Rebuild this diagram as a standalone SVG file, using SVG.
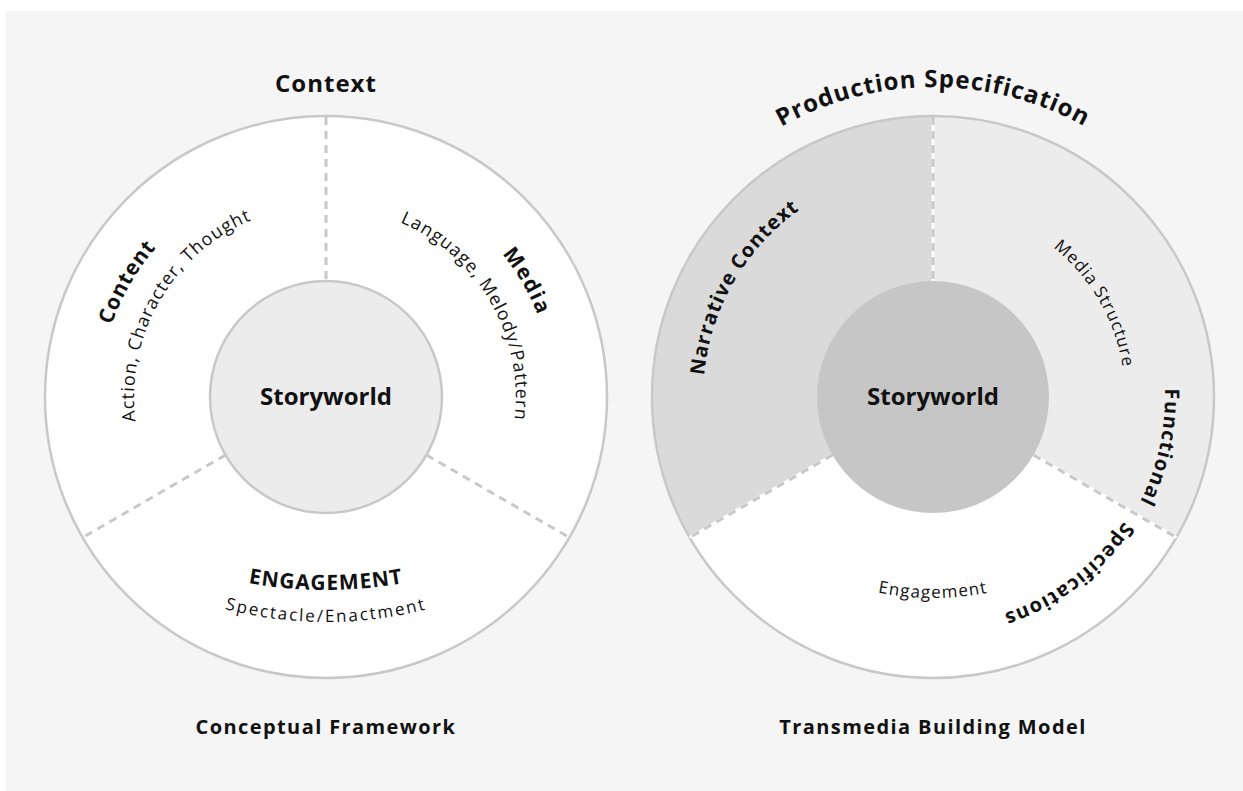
<svg xmlns="http://www.w3.org/2000/svg" width="1243" height="791" viewBox="0 0 1243 791">
<style>
.t{font-family:"Open Sans","Liberation Sans",sans-serif;fill:#111;}
.b{font-weight:700;}
.n{font-weight:400;}
.ring{fill:#fff;stroke:#c8c8c8;stroke-width:2.5;}
.dash{fill:none;stroke:#c8c8c8;stroke-width:3;stroke-dasharray:8 6;}
.wl{fill:none;stroke:#fff;stroke-width:3;}
</style>
<defs>
<path id="pContent" d="M180.7,570.1 A226,226 0 0 1 403.3,184.6"/>
<path id="pAction" d="M202.6,544.1 A192,192 0 0 1 391.7,216.6"/>
<path id="pMedia" d="M248.4,183.7 A227,227 0 0 1 471.9,570.9"/>
<path id="pLang" d="M261,218.5 A190,190 0 0 1 448.1,542.5"/>
<path id="pEng1" d="M106,531 A440,440 0 0 0 546,531"/>
<path id="pEng2" d="M96.6,549.7 A400,400 0 0 0 555.4,549.7"/>
<path id="pProd" d="M714.1,616.6 A310,310 0 1 1 1151.9,616.6"/>
<path id="pNarr" d="M785.2,573.2 A230,230 0 0 1 1011.7,180.9"/>
<path id="pMS" d="M867.3,216.6 A192,192 0 0 1 1056.4,544.1"/>
<path id="pFunc" d="M1021.8,182.7 A232,232 0 0 1 922.9,628.8"/>
<path id="pSpec" d="M1135.4,292.1 A228,228 0 0 1 778.7,564.8"/>
<path id="pEng3" d="M753,532.5 A280,280 0 0 0 1113,532.5"/>
</defs>
<rect x="0" y="0" width="1243" height="791" fill="#fff"/>
<rect x="6" y="11" width="1237" height="780" fill="#f5f5f5"/>

<g id="conceptual-framework">
  <circle class="ring" cx="326" cy="397" r="281"/>
  <g id="cf-connectors">
    <line class="dash" x1="326" y1="117" x2="326" y2="281"/>
    <line class="dash" x1="225.5" y1="455" x2="83.5" y2="537"/>
    <line class="dash" x1="426.5" y1="455" x2="568.5" y2="537"/>
  </g>
  <g id="cf-storyworld">
    <circle cx="326" cy="397" r="116" fill="#ececec" stroke="#c8c8c8" stroke-width="2.5"/>
    <text class="t b" x="326" y="405" font-size="24" text-anchor="middle">Storyworld</text>
  </g>
  <g id="cf-context">
    <text class="t b" x="326" y="92" font-size="24" letter-spacing="1" text-anchor="middle">Context</text>
  </g>
  <g id="cf-content">
    <text class="t b" font-size="21" text-anchor="middle" letter-spacing="0.8"><textPath href="#pContent" startOffset="50%">Content</textPath></text>
    <text class="t n" font-size="18" text-anchor="middle" letter-spacing="1"><textPath href="#pAction" startOffset="50%">Action, Character, Thought</textPath></text>
  </g>
  <g id="cf-media">
    <text class="t b" font-size="21" text-anchor="middle" letter-spacing="1.5"><textPath href="#pMedia" startOffset="50%">Media</textPath></text>
    <text class="t n" font-size="18" text-anchor="middle" letter-spacing="1"><textPath href="#pLang" startOffset="50%">Language, Melody/Pattern</textPath></text>
  </g>
  <g id="cf-engagement">
    <text class="t b" font-size="21" text-anchor="middle" letter-spacing="1"><textPath href="#pEng1" startOffset="50%">ENGAGEMENT</textPath></text>
    <text class="t n" font-size="17" text-anchor="middle" letter-spacing="2"><textPath href="#pEng2" startOffset="50%">Spectacle/Enactment</textPath></text>
  </g>
  <text class="t b" x="326" y="734" font-size="20" letter-spacing="1.4" text-anchor="middle">Conceptual Framework</text>
</g>

<g id="transmedia-model">
  <circle cx="933" cy="397" r="281" fill="#fff"/>
  <path id="tm-narrative-sector" d="M933,397 L689.6,537.5 A281,281 0 0 1 933,116 Z" fill="#dadada"/>
  <path id="tm-media-sector" d="M933,397 L933,116 A281,281 0 0 1 1176.4,537.5 Z" fill="#ececec"/>
  <circle cx="933" cy="397" r="281" fill="none" stroke="#c8c8c8" stroke-width="2.5"/>
  <g id="tm-connectors">
    <line class="wl" x1="933" y1="117" x2="933" y2="281"/>
    <line class="dash" x1="933" y1="117" x2="933" y2="281"/>
    <line class="wl" x1="832.5" y1="455" x2="689.6" y2="537.5"/>
    <line class="dash" x1="832.5" y1="455" x2="689.6" y2="537.5"/>
    <line class="wl" x1="1033.5" y1="455" x2="1176.4" y2="537.5"/>
    <line class="dash" x1="1033.5" y1="455" x2="1176.4" y2="537.5"/>
  </g>
  <g id="tm-storyworld">
    <circle cx="933" cy="397" r="116" fill="#c6c6c6"/>
    <text class="t b" x="933" y="405" font-size="24" text-anchor="middle">Storyworld</text>
  </g>
  <g id="tm-production">
    <text class="t b" font-size="24" text-anchor="middle" letter-spacing="1"><textPath href="#pProd" startOffset="50%">Production Specification</textPath></text>
  </g>
  <g id="tm-narrative">
    <text class="t b" font-size="20" text-anchor="middle" letter-spacing="1"><textPath href="#pNarr" startOffset="50%">Narrative Context</textPath></text>
  </g>
  <g id="tm-media">
    <text class="t n" font-size="17" text-anchor="middle" letter-spacing="1"><textPath href="#pMS" startOffset="50%">Media Structure</textPath></text>
  </g>
  <g id="tm-functional">
    <text class="t b" font-size="20" text-anchor="middle" letter-spacing="1.2"><textPath href="#pFunc" startOffset="50%">Functional</textPath></text>
    <text class="t b" font-size="20" text-anchor="middle" letter-spacing="1.2"><textPath href="#pSpec" startOffset="50%">Specifications</textPath></text>
  </g>
  <g id="tm-engagement">
    <text class="t n" font-size="17" text-anchor="middle" letter-spacing="1.2"><textPath href="#pEng3" startOffset="50%">Engagement</textPath></text>
  </g>
  <text class="t b" x="933" y="734" font-size="20" letter-spacing="1.4" text-anchor="middle">Transmedia Building Model</text>
</g>
</svg>
